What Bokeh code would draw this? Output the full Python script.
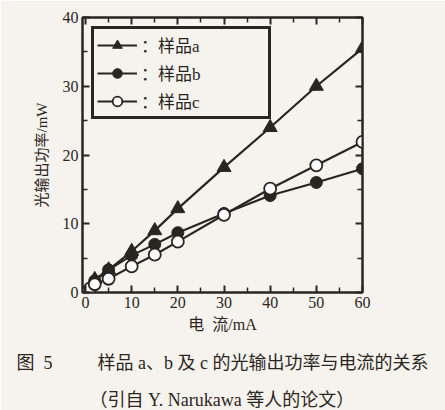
from bokeh.plotting import figure
from bokeh.models import Range1d, LinearAxis, FixedTicker, Title, Legend, CustomJSTickFormatter
from bokeh.embed import file_html
from bokeh.resources import INLINE

# data
xa = [0, 2, 5, 10, 15, 20, 30, 40, 50, 60]
ya = [0, 1.9, 3.3, 6.0, 9.0, 12.2, 18.2, 24.0, 30.0, 35.5]
xb = [0, 2, 5, 10, 15, 20, 30, 40, 50, 60]
yb = [0, 1.7, 3.3, 5.4, 7.0, 8.7, 11.5, 14.1, 16.0, 18.0]
xc = [0, 1, 2, 5, 10, 15, 20, 30, 40, 50, 60]
yc = [0, 0.6, 1.2, 2.0, 3.8, 5.5, 7.4, 11.3, 15.1, 18.5, 21.9]
x_ticks = [0, 10, 20, 30, 40, 50, 60]
y_ticks = [0, 10, 20, 30, 40]
labels = ["：样品a", "：样品b", "：样品c"]
xlabel = "电\u00a0\u00a0流/mA"
ylabel = "光输出功率/mW"
caption1 = "图\u00a0\u00a05" + "\u00a0" * 10 + "样品 a、b 及 c 的光输出功率与电流的关系"
caption2 = "（引自 Y. Narukawa 等人的论文）"

INK = "#2b2522"
BG = "#f6f3ee"
SERIF = "Liberation Serif, Noto Sans CJK SC"

p = figure(width=445, height=410, output_backend="svg", toolbar_location=None,
           x_range=Range1d(-0.65, 60), y_range=Range1d(0, 40),
           min_border_left=82, min_border_right=83, min_border_top=17, min_border_bottom=117)
p.background_fill_color = BG
p.border_fill_color = BG
p.outline_line_color = INK
p.outline_line_width = 2
p.grid.visible = False

xt = FixedTicker(ticks=x_ticks, minor_ticks=[5, 15, 25, 35, 45, 55])
yt = FixedTicker(ticks=y_ticks, minor_ticks=[5, 15, 25, 35])

bottom = p.below[0]
left = p.left[0]
blank = CustomJSTickFormatter(code="return ''")
top = LinearAxis(ticker=xt, formatter=blank)
right = LinearAxis(ticker=yt, formatter=blank)
p.add_layout(top, "above")
p.add_layout(right, "right")
for ax, t in [(bottom, xt), (left, yt), (top, xt), (right, yt)]:
    ax.ticker = t
    ax.axis_line_color = INK
    ax.axis_line_width = 2
    ax.major_tick_line_color = INK
    ax.minor_tick_line_color = INK
    ax.major_tick_line_width = 2
    ax.minor_tick_line_width = 1.5
    ax.major_tick_in = 7
    ax.major_tick_out = 0
    ax.minor_tick_in = 5
    ax.minor_tick_out = 0
    ax.major_label_text_font = SERIF
    ax.major_label_text_font_size = "16px"
    ax.major_label_text_color = INK
    ax.axis_label_text_font = SERIF
    ax.axis_label_text_font_style = "normal"
    ax.axis_label_text_font_size = "16px"
    ax.axis_label_text_color = INK
for ax in (top, right):
    ax.major_label_standoff = 0

bottom.axis_label = xlabel
bottom.major_label_standoff = 4
bottom.axis_label_standoff = 5
left.axis_label = ylabel
left.axis_label_text_font_size = "15px"
left.major_label_standoff = 4
left.axis_label_standoff = 10

la = p.line(xa, ya, line_color=INK, line_width=2.2)
ma = p.scatter(xa, ya, marker="triangle", size=14, fill_color=INK, line_color=INK)
lb = p.line(xb, yb, line_color=INK, line_width=2.2)
mb = p.scatter(xb, yb, marker="circle", size=12, fill_color=INK, line_color=INK)
lc = p.line(xc, yc, line_color=INK, line_width=2.2)
mc = p.scatter(xc, yc, marker="circle", size=12, fill_color="white", line_color=INK, line_width=1.8)

legend = Legend(items=[(labels[0], [la, ma]), (labels[1], [lb, mb]), (labels[2], [lc, mc])],
                location="top_left")
legend.margin = 9
legend.padding = 3
legend.spacing = 3
legend.glyph_width = 40
legend.glyph_height = 24
legend.label_height = 24
legend.label_standoff = 4
legend.label_text_font = SERIF
legend.label_text_font_size = "17px"
legend.label_text_color = INK
legend.border_line_color = INK
legend.border_line_alpha = 1
legend.border_line_width = 3
legend.background_fill_color = BG
legend.background_fill_alpha = 1
legend.label_width = 124
p.add_layout(legend, "center")

t1 = Title(text=caption1, align="left", offset=-66, text_font=SERIF,
           text_font_size="18px", text_font_style="normal", text_color=INK, standoff=30)
t2 = Title(text=caption2, align="left", offset=7, text_font=SERIF,
           text_font_size="18px", text_font_style="normal", text_color=INK, standoff=1)
p.add_layout(t1, "below")
p.add_layout(t2, "below")

open("out.html", "w").write(file_html(p, INLINE))
